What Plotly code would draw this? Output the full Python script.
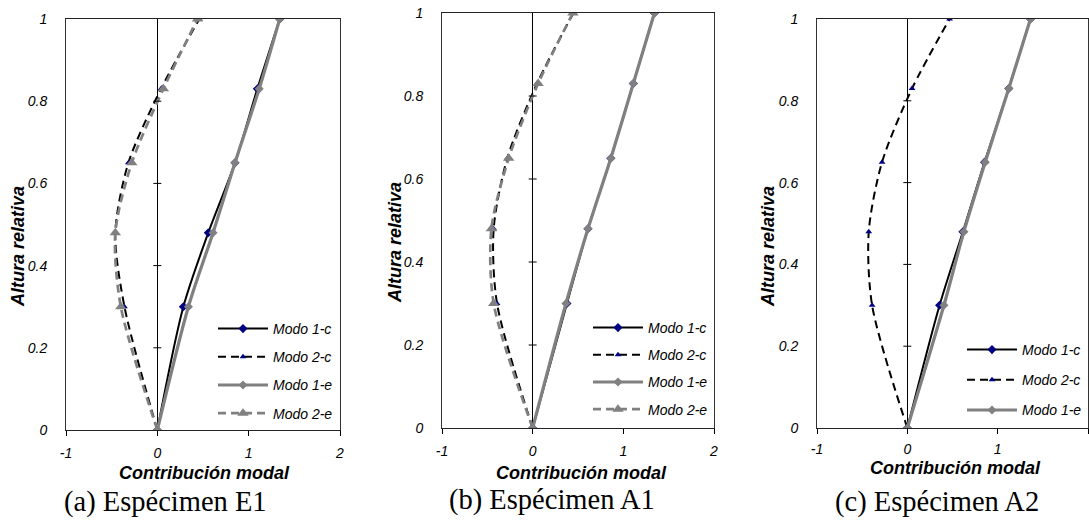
import plotly.graph_objects as go

W, H = 1089, 522

heights = [0.0, 0.30, 0.48, 0.65, 0.83, 1.0]

# Panel (a) Espécimen E1
a_m1c = [0.0, 0.285, 0.558, 0.85, 1.095, 1.34]
a_m2c = [0.0, -0.36, -0.46, -0.317, 0.04, 0.46]
a_m1e = [0.0, 0.34, 0.61, 0.85, 1.115, 1.34]
a_m2e = [0.0, -0.40, -0.46, -0.28, 0.066, 0.44]

# Panel (b) Espécimen A1
b_m1c = [0.0, 0.378, 0.61, 0.862, 1.11, 1.343]
b_m2c = [0.0, -0.393, -0.43, -0.28, 0.048, 0.45]
b_m1e = [0.0, 0.367, 0.61, 0.862, 1.11, 1.343]
b_m2e = [0.0, -0.43, -0.455, -0.264, 0.06, 0.444]

# Panel (c) Espécimen A2
c_m1c = [0.0, 0.357, 0.615, 0.855, 1.123, 1.363]
c_m2c = [0.0, -0.39, -0.427, -0.28, 0.052, 0.468]
c_m1e = [0.0, 0.405, 0.626, 0.862, 1.123, 1.363]

series_names = ["Modo 1-c", "Modo 2-c", "Modo 1-e", "Modo 2-e"]
captions = ["(a) Espécimen E1", "(b) Espécimen A1", "(c) Espécimen A2"]
x_title = "Contribución modal"
y_title = "Altura relativa"

x_ticks = [-1, 0, 1, 2]
x_ticktext = ["-1", "0", "1", "2"]
y_ticks = [0, 0.2, 0.4, 0.6, 0.8, 1.0]
y_ticktext = ["0", "0.2", "0.4", "0.6", "0.8", "1"]
zero_ticks = [0.2, 0.4, 0.6, 0.8]

panels = [
    [a_m1c, a_m2c, a_m1e, a_m2e],
    [b_m1c, b_m2c, b_m1e, b_m2e],
    [c_m1c, c_m2c, c_m1e],
]

# layout geometry in pixels (left, right, top, bottom)
boxes = [(66, 340, 19, 430), (442, 714, 13, 428), (817, 1088, 19, 428)]
legend_pos = [(213, 313, 7), (588, 312, 6), (962, 334, 9)]
xtitle_pos = [(204, 473), (581, 473), (955, 468)]
xtick_standoff = [5, 5, 3]
ytitle_pos = [(18, 247), (395, 243), (768, 247)]
caption_pos = [(165, 502), (552, 500), (937, 502)]

styles = [
    dict(line=dict(color="black", width=2), marker=dict(symbol="diamond", size=7, color="#000080")),
    dict(line=dict(color="black", width=2, dash="8px,5px"), marker=dict(symbol="triangle-up", size=6, color="#000080")),
    dict(line=dict(color="#808080", width=3.2), marker=dict(symbol="diamond", size=7, color="#808080")),
    dict(line=dict(color="#808080", width=2.7, dash="8px,5px"), marker=dict(symbol="triangle-up", size=10, color="#808080")),
]

fig = go.Figure()
tick_font = dict(family="Arial", size=14, color="black", style="italic")
layout = dict(
    width=W, height=H, margin=dict(l=0, r=0, t=0, b=0, autoexpand=False),
    paper_bgcolor="white", plot_bgcolor="white", showlegend=True,
)
annotations = []
shapes = []

for i, data in enumerate(panels):
    sfx = "" if i == 0 else str(i + 1)
    xa, ya = "x" + sfx, "y" + sfx
    leg = "legend" + sfx
    for j, xs in enumerate(data):
        st = styles[j]
        fig.add_trace(go.Scatter(
            x=xs, y=heights, mode="lines+markers", name=series_names[j],
            line=dict(**st["line"], shape="spline", smoothing=0.8),
            marker=st["marker"], xaxis=xa, yaxis=ya, legend=leg,
            legendgroup=f"g{i}_{j}",
        ))
    l, r, t, b = boxes[i]
    layout["xaxis" + sfx] = dict(
        domain=[l / W, r / W], range=[-1, 2], anchor=ya,
        tickvals=x_ticks, ticktext=x_ticktext, ticks="outside", ticklen=5,
        tickcolor="black", tickfont=tick_font, showgrid=False,
        zeroline=True, zerolinecolor="black", zerolinewidth=1,
        showline=True, linecolor="#222", linewidth=1.3, mirror=True,
        ticklabelstandoff=xtick_standoff[i],
    )
    layout["yaxis" + sfx] = dict(
        domain=[1 - b / H, 1 - t / H], range=[0, 1], anchor=xa,
        tickvals=y_ticks, ticktext=y_ticktext, ticks="outside", ticklen=0,
        tickfont=tick_font, showgrid=False, zeroline=False,
        showline=True, linecolor="#333", linewidth=1, mirror=True,
        ticklabelstandoff=15,
    )
    lx, ly, gap = legend_pos[i]
    layout[leg] = dict(
        x=lx / W, y=1 - ly / H, xanchor="left", yanchor="top",
        bgcolor="rgba(0,0,0,0)", font=dict(family="Arial", size=14, color="black", style="italic"),
        tracegroupgap=gap, itemclick=False, itemwidth=50,
    )
    for v in zero_ticks:
        shapes.append(dict(
            type="line", xref=xa, yref=ya, xsizemode="pixel", xanchor=0,
            x0=-4, x1=4, y0=v, y1=v, line=dict(color="black", width=1),
        ))
    tx, ty = xtitle_pos[i]
    annotations.append(dict(
        text=x_title, x=tx / W, y=1 - ty / H, xref="paper", yref="paper",
        xanchor="center", yanchor="middle", showarrow=False,
        font=dict(family="Arial", size=18, color="black", weight="bold", style="italic"),
    ))
    yx, yy = ytitle_pos[i]
    annotations.append(dict(
        text=y_title, x=yx / W, y=1 - yy / H, xref="paper", yref="paper",
        xanchor="center", yanchor="middle", showarrow=False, textangle=-90,
        font=dict(family="Arial", size=18, color="black", weight="bold", style="italic"),
    ))
    cx, cy = caption_pos[i]
    annotations.append(dict(
        text=captions[i], x=cx / W, y=1 - cy / H, xref="paper", yref="paper",
        xanchor="center", yanchor="middle", showarrow=False,
        font=dict(family="Liberation Serif", size=28.5, color="black"),
    ))

layout["annotations"] = annotations
layout["shapes"] = shapes
fig.update_layout(**layout)
fig.write_html("out.html", config={"displayModeBar": False},
               post_script="document.body.style.margin='0';")
